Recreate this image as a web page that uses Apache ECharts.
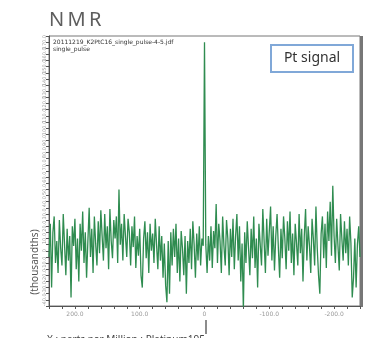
<!DOCTYPE html>
<html><head><meta charset="utf-8">
<script src="https://cdn.jsdelivr.net/npm/echarts@6/dist/echarts.min.js"></script>
<style>html,body{margin:0;padding:0;background:#fff}#c{width:366px;height:338px}</style>
</head><body><div id="c"></div>
<script>
// chemical shift axis (ppm), sampled every 2 ppm from +240 to -240
const ppmStart = 240, ppmStep = -2;
// intensity (thousandths)
const intensity = [
 -5, 22, -30, 15, 28, -10, 8, -18, 25, 2,
 -12, 30, 5, -20, 18, -8, 12, -38, 20, 4,
 26, -15, 10, -25, 22, 0, 32, -10, 15, -22,
 8, 35, -5, 18, -18, 28, 6, -12, 24, -2,
 33, 12, -8, 30, 2, 20, -15, 34, 8, -6,
 25, 10, 28, -10, 50, 5, 22, -8, 30, 12,
 -5, 26, 15, -12, 20, 3, 28, -14, 12, -4,
 18, -20, -30, 10, 24, -6, 15, -18, 22, 0,
 14, -10, 26, 5, -15, 20, -8, 12, -22, 6,
 -28, -42, 8, -35, 15, -12, 18, -5, 22, -18,
 10, -25, 16, 2, -20, 12, -35, 8, -10, 18,
 -15, 24, 5, -22, 14, -8, 20, -12, 10, 4,
 170,
 5, -18, 12, -8, 20, -14, 16, 2, 38,
 -10, 22, 8, -18, 28, 4, -12, 25, 10, -20,
 18, -5, 26, -15, 12, 30, -8, 20, -25, 6,
 -48, 15, -10, 24, 2, -20, 18, -6, 28, -14,
 10, -30, 22, 5, -12, 34, 8, -18, 26, -4,
 16, 36, -8, 20, -16, 12, 30, 2, -22, 18,
 -6, 28, 10, -15, 24, 0, 32, -10, 14, -20,
 22, 6, -12, 30, -2, 18, -25, 12, 34, -8,
 20, 4, -18, 26, 10, -12, 36, 2, -20, -35,
 14, 28, -6, 22, -14, 32, 8, 40, -4, 53,
 12, -10, 26, 4, -16, 30, 10, -8, 24, -2,
 18, -12, 28, 6, -38, -22, 10, -30, 5, 20,
 -5
];
const xLabelValues = [200, 100, 0, -100, -200];
const yLabelStep = 10;
const titleText = "N\u2009M\u2009R";
const fileName = "20111219_K2PtC16_single_pulse-4-5.jdf";
const pulseName = "single_pulse";
const legendText = "Pt signal";
const yName = "(thousandths)";
const xName = "X : parts per Million : Platinum195";

const seriesData = intensity.map((v, i) => [ppmStart + ppmStep * i, v]);
const fmt = v => v === 0 ? "0" : v.toFixed(1);

const chart = echarts.init(document.getElementById('c'), null, {renderer: 'canvas'});
chart.setOption({
  animation: false,
  grid: {left: 49, top: 36, width: 311, height: 270, show: true, borderColor: '#777', borderWidth: 1, backgroundColor: '#fff'},
  xAxis: {
    type: 'value', inverse: true, min: -240, max: 240, interval: 20,
    axisLine: {show: true, onZero: false, lineStyle: {color: '#555', width: 1}},
    axisTick: {show: true, length: 3, lineStyle: {color: '#555'}},
    splitLine: {show: false},
    axisLabel: {fontSize: 6, color: '#999', margin: 5, fontFamily: 'DejaVu Sans',
      formatter: v => xLabelValues.includes(v) ? fmt(v) : ''}
  },
  yAxis: {
    type: 'value', min: -45, max: 175, interval: 5,
    axisLine: {show: true, onZero: false, lineStyle: {color: '#555', width: 1}},
    axisTick: {show: true, length: 3, lineStyle: {color: '#555'}},
    splitLine: {show: false},
    axisLabel: {fontSize: 5, color: '#999', margin: 2, rotate: 90, fontFamily: 'DejaVu Sans',
      formatter: v => (v % yLabelStep === 0) ? fmt(v) : ''}
  },
  series: [{
    type: 'line', data: seriesData, showSymbol: false,
    lineStyle: {color: '#2f8c50', width: 1.3}, silent: true
  }],
  graphic: [
    {type: 'text', left: 49, top: 10, style: {text: titleText, fontSize: 20, fill: '#5e5e5e', fontFamily: 'Noto Sans'}},
    {type: 'rect', shape: {x: 360, y: 36, width: 3, height: 271}, style: {fill: '#777'}},
    {type: 'text', left: 53, top: 39, style: {text: fileName, fontSize: 6, fill: '#333', fontFamily: 'DejaVu Sans'}},
    {type: 'text', left: 53, top: 46, style: {text: pulseName, fontSize: 6, fill: '#333', fontFamily: 'DejaVu Sans'}},
    {type: 'rect', shape: {x: 271, y: 45, width: 82, height: 27}, style: {fill: '#fff', stroke: '#80a8d8', lineWidth: 2}},
    {type: 'text', x: 312, y: 58.5, style: {text: legendText, fontSize: 14, fill: '#333', align: 'center', verticalAlign: 'middle', fontFamily: 'Noto Sans'}},
    {type: 'text', x: 35, y: 262, rotation: Math.PI / 2, style: {text: yName, fontSize: 10, fill: '#555', align: 'center', verticalAlign: 'middle', fontFamily: 'Noto Sans'}},
    {type: 'text', left: 47, top: 335, style: {text: xName, fontSize: 10, fill: '#444', fontFamily: 'Noto Sans'}},
    {type: 'line', shape: {x1: 206, y1: 320, x2: 206, y2: 334}, style: {stroke: '#666', lineWidth: 1.5}}
  ]
});
</script></body></html>
